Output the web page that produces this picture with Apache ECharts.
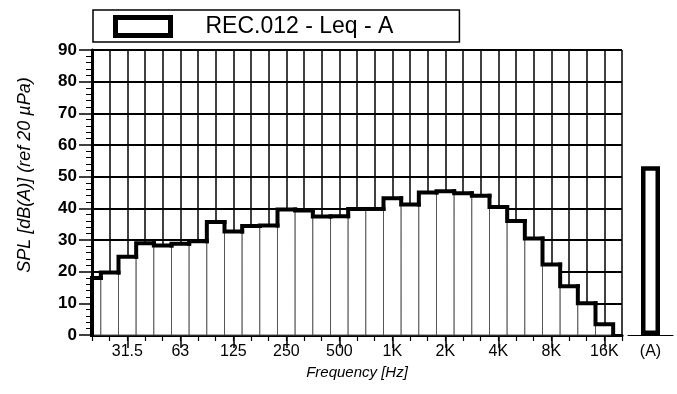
<!DOCTYPE html>
<html><head><meta charset="utf-8">
<script src="https://cdn.jsdelivr.net/npm/echarts@6/dist/echarts.min.js"></script>
<style>html,body{margin:0;padding:0;background:#fff}#c{width:677px;height:394px}</style>
</head><body><div id="c"></div>
<script>
// Third-octave band centre frequencies (x categories)
const bands = ['20','25','31.5','40','50','63','80','100','125','160','200','250','315','400','500','630','800','1K','1.25K','1.6K','2K','2.5K','3.15K','4K','5K','6.3K','8K','10K','12.5K','16K','20K'];
// Leq (dB(A)) per band, 20 Hz .. 16 kHz
const levels = [18,19.7,24.7,29,28.3,28.8,29.6,35.7,32.7,34.4,34.6,39.6,39.3,37.4,37.5,39.8,39.8,43.2,41.2,45,45.4,44.8,44,40.4,36,30.5,22.3,15.4,10,3.4];
// Octave labels shown on the axis
const tickLabels = ['31.5','63','125','250','500','1K','2K','4K','8K','16K'];
// Overall A-weighted level
const overallCats = ['(A)'];
const overallValues = [53.3];
const seriesName = 'REC.012 - Leq - A';
const yName = 'SPL [dB(A)] (ref 20 \u00b5Pa)';
const xName = 'Frequency [Hz]';

const labelIdx = tickLabels.map(l => bands.indexOf(l));
const stepData = levels.map((v, i) => [i, v, i > 0 ? levels[i - 1] : 0]);

function renderStep(params, api) {
  const i = api.value(0), v = api.value(1), pv = api.value(2);
  const cs = params.coordSys;
  const pb = api.coord([i - 0.5, 0]);
  const pt = api.coord([i + 0.5, v]);
  const x0 = Math.max(pb[0], cs.x);
  const x1 = Math.min(pt[0], cs.x + cs.width);
  const yb = pb[1], yt = pt[1];
  const yp = api.coord([i - 0.5, pv])[1];
  const pts = [[x0, yp], [x0, yt], [x1, yt]];
  if (i === levels.length - 1) pts.push([x1, yb]);
  return {
    type: 'group',
    children: [
      {type: 'rect', z2: 0, shape: {x: x0, y: yt, width: x1 - x0, height: yb - yt},
       style: {fill: '#fff', stroke: '#555', lineWidth: 1}},
      {type: 'polyline', z2: 10, shape: {points: pts},
       style: {fill: null, stroke: '#000', lineWidth: 4, lineJoin: 'miter', lineCap: 'square'}}
    ]
  };
}

const font = 'Arial, "Liberation Sans", Helvetica, sans-serif';
const chart = echarts.init(document.getElementById('c'), null, {renderer: 'canvas'});
chart.setOption({
  animation: false,
  backgroundColor: '#fff',
  textStyle: {fontFamily: font, color: '#000'},
  legend: {
    left: 93, top: 10,
    padding: [5, 66, 4, 20],
    borderColor: '#000', borderWidth: 1.5,
    itemWidth: 55, itemHeight: 18,
    icon: 'rect',
    itemStyle: {color: '#fff', borderColor: '#000', borderWidth: 5},
    textStyle: {fontSize: 23, fontFamily: font, color: '#000', padding: [0, 0, 0, 30]},
    data: [seriesName]
  },
  grid: [
    {left: 92, right: 55, top: 50, bottom: 59},
    {left: 628, width: 45, top: 50, bottom: 59}
  ],
  xAxis: [
    {
      gridIndex: 0, type: 'value', min: 0, max: bands.length - 1, interval: 1,
      axisLine: {lineStyle: {color: '#000', width: 3}},
      axisTick: {length: 6, lineStyle: {color: '#000', width: 1.2}},
      axisLabel: {show: false},
      splitLine: {show: true, lineStyle: {color: '#000', width: 1.5}},
      name: xName, nameLocation: 'middle', nameGap: 30,
      nameTextStyle: {fontSize: 15, fontStyle: 'italic', fontFamily: font, color: '#000'}
    },
    {
      gridIndex: 0, type: 'value', min: 0, max: bands.length - 1, position: 'bottom',
      axisLine: {show: false},
      axisTick: {show: true, length: 13, customValues: labelIdx, lineStyle: {color: '#000', width: 1.5}},
      axisLabel: {show: true, customValues: labelIdx, margin: 9, fontSize: 16, color: '#000', fontFamily: font,
        formatter: v => bands[Math.round(v)]},
      splitLine: {show: false}
    },
    {
      gridIndex: 1, type: 'category', data: overallCats,
      axisLine: {lineStyle: {color: '#000', width: 1}},
      axisTick: {show: false},
      axisLabel: {margin: 9, fontSize: 16, color: '#000', fontFamily: font}
    }
  ],
  yAxis: [
    {
      gridIndex: 0, type: 'value', min: 0, max: 90, interval: 10,
      axisLine: {show: true, lineStyle: {color: '#000', width: 3}},
      axisTick: {show: true, length: 13, lineStyle: {color: '#000', width: 1.5}},
      minorTick: {show: true, splitNumber: 5, length: 6, lineStyle: {color: '#000', width: 1}},
      axisLabel: {margin: 15, fontSize: 17, fontWeight: 'bold', color: '#000', fontFamily: font},
      splitLine: {show: true, lineStyle: {color: '#000', width: 2}},
      name: yName, nameLocation: 'middle', nameGap: 58,
      nameTextStyle: {fontSize: 18, fontStyle: 'italic', fontFamily: font, color: '#000', padding: [0, 0, 0, 35]}
    },
    {gridIndex: 1, type: 'value', min: 0, max: 90, show: false}
  ],
  series: [
    {
      name: seriesName, type: 'custom', xAxisIndex: 0, yAxisIndex: 0,
      renderItem: renderStep, data: stepData, clip: false,
      itemStyle: {color: '#fff', borderColor: '#000', borderWidth: 5},
      encode: {x: 0, y: 1}
    },
    {
      type: 'bar', xAxisIndex: 2, yAxisIndex: 1, data: overallValues, barWidth: 19,
      itemStyle: {color: '#fff', borderColor: '#000', borderWidth: 4.5}
    }
  ]
});
</script>
</body></html>
